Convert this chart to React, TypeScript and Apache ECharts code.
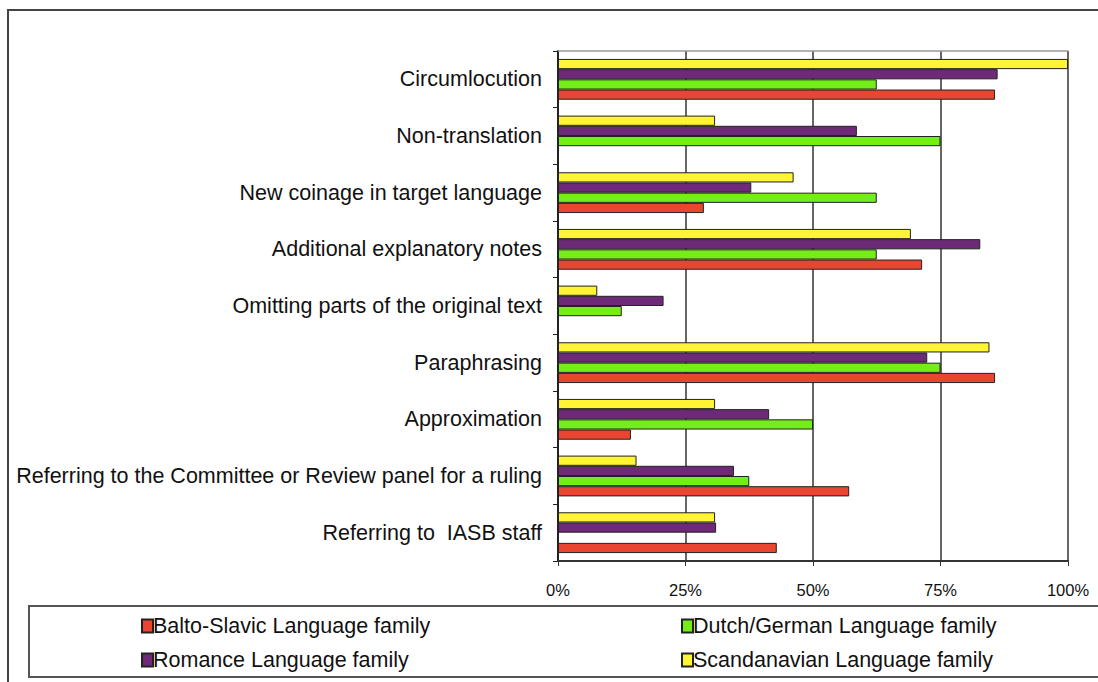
import React, { useEffect, useRef } from "react";
import * as echarts from "echarts";

const categories = [
  "Circumlocution",
  "Non-translation",
  "New coinage in target language",
  "Additional explanatory notes",
  "Omitting parts of the original text",
  "Paraphrasing",
  "Approximation",
  "Referring to the Committee or Review panel for a ruling",
  "Referring to  IASB staff",
];

const baltoSlavic = [85.7, null, 28.6, 71.4, null, 85.7, 14.3, 57.1, 42.9];
const dutchGerman = [62.5, 75, 62.5, 62.5, 12.5, 75, 50, 37.5, null];
const romance = [86.2, 58.6, 37.9, 82.8, 20.7, 72.4, 41.4, 34.5, 31.0];
const scandinavian = [100, 30.8, 46.2, 69.2, 7.7, 84.6, 30.8, 15.4, 30.8];

const xTicks = [0, 25, 50, 75, 100];

const FONT = "'Liberation Sans', Arial, sans-serif";

export default function App() {
  const ref = useRef<HTMLDivElement>(null);
  useEffect(() => {
    if (!ref.current) return;
    const chart = echarts.init(ref.current, null, { renderer: "svg" });
    const border = { borderColor: "#222", borderWidth: 1 };
    const mk = (name: string, data: (number | null)[], color: string) => ({
      name,
      type: "bar",
      data,
      barGap: "0%",
      barCategoryGap: "28%",
      itemStyle: { color, ...border },
    });
    const legendText = {
      fontSize: 21.5,
      color: "#111",
      fontFamily: FONT,
      lineHeight: 22,
      padding: [0, 0, 0, -5],
    };
    chart.setOption({
      animation: false,
      textStyle: { fontFamily: FONT },
      graphic: [
        {
          type: "rect",
          shape: { x: 8, y: 10, width: 1200, height: 800 },
          style: { fill: "none", stroke: "#444", lineWidth: 2 },
          z: -10,
        },
        {
          type: "rect",
          shape: { x: 29, y: 606, width: 1200, height: 71 },
          style: { fill: "#fff", stroke: "#555", lineWidth: 2 },
          z: -5,
        },
      ],
      grid: { left: 558, top: 51, width: 510, height: 510 },
      xAxis: [
        {
          type: "value",
          min: xTicks[0],
          max: xTicks[xTicks.length - 1],
          interval: 25,
          axisLine: { show: true, lineStyle: { color: "#333", width: 2 } },
          axisTick: { show: true, length: 5, lineStyle: { color: "#333" } },
          axisLabel: {
            formatter: "{value}%",
            fontSize: 16.5,
            color: "#111",
            margin: 20,
            fontFamily: FONT,
          },
          splitLine: { show: true, lineStyle: { color: "#333", width: 1.5 } },
        },
        {
          type: "value",
          position: "top",
          min: 0,
          max: 100,
          interval: 25,
          axisLine: { show: true, lineStyle: { color: "#999", width: 1.5 } },
          axisTick: { show: false },
          axisLabel: { show: false },
          splitLine: { show: false },
        },
      ],
      yAxis: {
        type: "category",
        data: categories,
        inverse: true,
        axisLine: { show: true, lineStyle: { color: "#222", width: 2 } },
        axisTick: { show: true, length: 5, lineStyle: { color: "#222" } },
        axisLabel: {
          fontSize: 21.5,
          color: "#111",
          margin: 16,
          lineHeight: 20,
          fontFamily: FONT,
        },
      },
      legend: [
        {
          left: 141,
          top: 615,
          padding: 0,
          orient: "vertical",
          itemWidth: 11,
          itemHeight: 13,
          itemGap: 12,
          icon: "rect",
          data: ["Balto-Slavic Language family", "Romance Language family"],
          textStyle: legendText,
        },
        {
          left: 681,
          top: 615,
          padding: 0,
          orient: "vertical",
          itemWidth: 11,
          itemHeight: 13,
          itemGap: 12,
          icon: "rect",
          data: ["Dutch/German Language family", "Scandanavian Language family"],
          textStyle: legendText,
        },
      ],
      series: [
        mk("Scandanavian Language family", scandinavian, "#fff535"),
        mk("Romance Language family", romance, "#6e2a78"),
        mk("Dutch/German Language family", dutchGerman, "#74ee18"),
        mk("Balto-Slavic Language family", baltoSlavic, "#ea4530"),
      ],
    });
    return () => chart.dispose();
  }, []);
  return (
    <div
      ref={ref}
      style={{ position: "absolute", left: 0, top: 0, width: 1098, height: 682 }}
    />
  );
}
